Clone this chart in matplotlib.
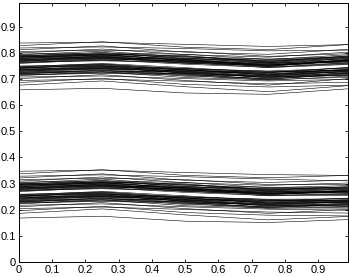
import matplotlib
matplotlib.use("Agg")
import matplotlib.pyplot as plt
import numpy as np

# x positions where the lines bend
knots_x = [0.0, 0.25, 0.5, 0.75, 0.99]

# centre (white gap) of each band at the knots
top_gap = [0.754, 0.764, 0.750, 0.736, 0.750]
bottom_gap = [0.264, 0.275, 0.260, 0.246, 0.250]

# offset of each line from the band centre at the knots
line_offsets = [
    [0.005, 0.009, 0.006, 0.008, 0.011],
    [0.009, 0.005, 0.012, 0.007, 0.005],
    [0.012, 0.017, 0.009, 0.015, 0.019],
    [0.015, 0.011, 0.019, 0.022, 0.013],
    [0.018, 0.024, 0.016, 0.011, 0.022],
    [0.021, 0.015, 0.025, 0.018, 0.016],
    [0.023, 0.028, 0.021, 0.027, 0.025],
    [0.026, 0.020, 0.014, 0.021, 0.029],
    [0.028, 0.033, 0.030, 0.024, 0.020],
    [0.031, 0.026, 0.035, 0.032, 0.027],
    [0.033, 0.037, 0.027, 0.036, 0.033],
    [0.035, 0.030, 0.039, 0.029, 0.037],
    [0.038, 0.042, 0.033, 0.040, 0.035],
    [0.041, 0.035, 0.044, 0.038, 0.042],
    [0.007, 0.013, 0.018, 0.010, 0.007],
    [0.016, 0.022, 0.010, 0.017, 0.009],
    [0.024, 0.018, 0.023, 0.014, 0.024],
    [0.030, 0.023, 0.028, 0.034, 0.031],
    [0.011, 0.007, 0.014, 0.019, 0.016],
    [0.014, 0.019, 0.024, 0.012, 0.020],
    [0.020, 0.013, 0.017, 0.025, 0.018],
    [0.025, 0.030, 0.020, 0.016, 0.023],
    [0.032, 0.027, 0.025, 0.030, 0.038],
    [0.036, 0.031, 0.037, 0.026, 0.032],
    [0.045, 0.050, 0.043, 0.047, 0.052],
    [0.051, 0.045, 0.055, 0.050, 0.046],
    [0.057, 0.062, 0.052, 0.058, 0.063],
    [0.064, 0.058, 0.066, 0.071, 0.060],
    [0.073, 0.078, 0.071, 0.076, 0.081],
    [0.083, 0.076, 0.082, 0.088, 0.081],
    [-0.005, -0.008, -0.011, -0.006, -0.009],
    [-0.008, -0.005, -0.007, -0.012, -0.006],
    [-0.011, -0.016, -0.010, -0.017, -0.014],
    [-0.014, -0.010, -0.018, -0.009, -0.019],
    [-0.017, -0.023, -0.014, -0.021, -0.011],
    [-0.020, -0.014, -0.024, -0.015, -0.023],
    [-0.023, -0.027, -0.020, -0.026, -0.017],
    [-0.025, -0.019, -0.028, -0.031, -0.026],
    [-0.028, -0.033, -0.025, -0.022, -0.030],
    [-0.030, -0.025, -0.033, -0.036, -0.034],
    [-0.033, -0.038, -0.030, -0.028, -0.037],
    [-0.036, -0.031, -0.040, -0.034, -0.032],
    [-0.039, -0.043, -0.036, -0.041, -0.040],
    [-0.042, -0.037, -0.045, -0.039, -0.044],
    [-0.007, -0.012, -0.016, -0.021, -0.015],
    [-0.015, -0.021, -0.012, -0.007, -0.018],
    [-0.022, -0.017, -0.029, -0.024, -0.021],
    [-0.031, -0.035, -0.022, -0.032, -0.027],
    [-0.010, -0.014, -0.022, -0.013, -0.007],
    [-0.013, -0.007, -0.015, -0.019, -0.024],
    [-0.019, -0.025, -0.019, -0.011, -0.016],
    [-0.027, -0.022, -0.026, -0.029, -0.020],
    [-0.034, -0.029, -0.035, -0.025, -0.038],
    [-0.038, -0.041, -0.031, -0.038, -0.029],
    [-0.047, -0.053, -0.049, -0.044, -0.052],
    [-0.053, -0.048, -0.056, -0.060, -0.049],
    [-0.060, -0.065, -0.059, -0.055, -0.063],
    [-0.068, -0.062, -0.071, -0.067, -0.074],
    [-0.078, -0.072, -0.080, -0.085, -0.076],
    [-0.096, -0.100, -0.104, -0.095, -0.088],
]

x_ticks = [0, 0.1, 0.2, 0.3, 0.4, 0.5, 0.6, 0.7, 0.8, 0.9]
y_ticks = [0, 0.1, 0.2, 0.3, 0.4, 0.5, 0.6, 0.7, 0.8, 0.9]
tick_labels = ["0", "0.1", "0.2", "0.3", "0.4", "0.5", "0.6", "0.7", "0.8", "0.9"]

plt.rcParams['font.family'] = ['Liberation Sans', 'DejaVu Sans']

fig = plt.figure(figsize=(3.49, 2.77), dpi=100)
ax = fig.add_axes([19/349, 15/277, 329/349, 259/277])

for gap in (top_gap, bottom_gap):
    for off in line_offsets:
        ax.plot(knots_x, np.array(gap) + np.array(off), color='black', lw=0.4)

ax.set_xlim(0, 0.99)
ax.set_ylim(0, 0.99)
ax.set_xticks(x_ticks)
ax.set_xticklabels(tick_labels)
ax.set_yticks(y_ticks)
ax.set_yticklabels(tick_labels)
ax.tick_params(direction='in', length=2.5, width=0.6, labelsize=8,
               top=True, right=True, pad=2)
for s in ax.spines.values():
    s.set_linewidth(0.7)

fig.savefig("out.png", dpi=100)
